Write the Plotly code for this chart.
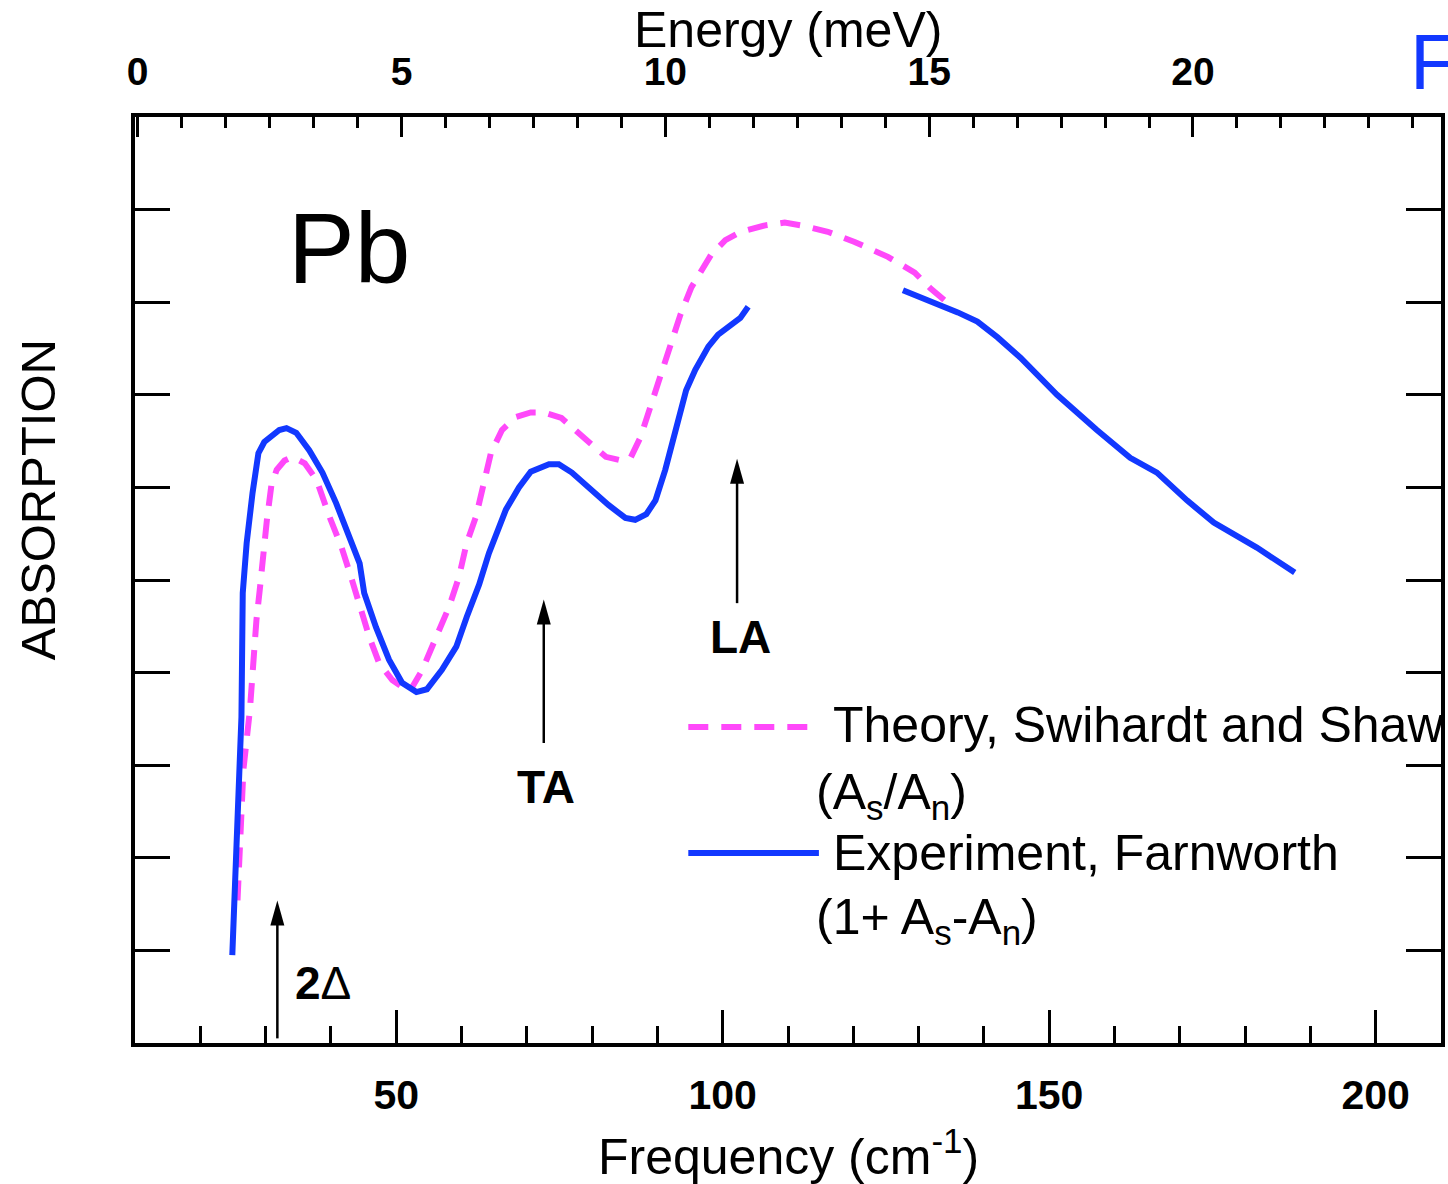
import plotly.graph_objects as go

# Far-infrared absorption of superconducting Pb
# Theory (Swihardt and Shaw): frequency in cm^-1, absorption in arbitrary units
theory_freq = [25.7, 26.2, 26.6, 27.6, 28.0, 28.6, 29.1, 29.5, 30.2, 30.9, 31.7, 32.9, 34.1,
               36.0, 37.8, 39.8, 41.6, 43.1, 44.4, 45.9, 47.4, 49.4, 52.0, 54.0, 56.1, 58.1,
               59.6, 60.8, 62.2, 63.4, 64.5, 66.2, 68.3, 70.6, 72.6, 75.3, 77.5, 79.9, 82.1,
               84.5, 85.9, 87.4, 88.9, 90.6, 92.1, 93.5, 95.2, 97.0, 98.2, 100.4, 102.8,
               106.5, 109.5, 112.0, 116.1, 120.2, 125.3, 129.4, 131.8, 134.0]
theory_abs = [1.54, 2.19, 2.95, 3.60, 4.08, 4.57, 4.89, 5.24, 5.65, 6.03, 6.19, 6.29, 6.33,
              6.26, 6.08, 5.68, 5.36, 5.03, 4.71, 4.38, 4.10, 3.92, 3.79, 4.03, 4.38, 4.71,
              5.03, 5.40, 5.68, 6.05, 6.37, 6.62, 6.76, 6.81, 6.81, 6.75, 6.62, 6.48, 6.33,
              6.29, 6.32, 6.54, 6.87, 7.24, 7.56, 7.86, 8.16, 8.38, 8.51, 8.67, 8.76,
              8.83, 8.86, 8.83, 8.76, 8.65, 8.49, 8.32, 8.15, 8.02]

# Experiment (Farnworth), low-frequency run
exp_low_freq = [24.9, 25.3, 25.6, 26.0, 26.3, 26.5, 27.1, 28.0, 28.9, 29.8, 30.9, 32.1, 33.2,
                34.7, 36.7, 38.7, 40.8, 42.8, 44.4, 45.1, 46.9, 48.9, 50.9, 53.1, 54.7, 57.0,
                59.2, 60.8, 62.7, 64.2, 65.7, 66.8, 68.8, 70.6, 73.4, 74.9, 76.9, 79.5, 82.5,
                85.1, 86.6, 88.3, 89.7, 91.2, 92.1, 93.2, 94.4, 95.8, 97.8, 99.3, 101.3,
                102.7, 103.9]
exp_low_abs = [0.95, 1.76, 2.25, 3.06, 3.52, 4.86, 5.40, 5.94, 6.37, 6.49, 6.56, 6.62, 6.64,
               6.59, 6.40, 6.16, 5.83, 5.46, 5.18, 4.86, 4.49, 4.14, 3.89, 3.79, 3.82, 4.03,
               4.28, 4.60, 4.95, 5.29, 5.57, 5.76, 6.00, 6.17, 6.25, 6.25, 6.16, 5.99, 5.81,
               5.67, 5.65, 5.71, 5.86, 6.19, 6.44, 6.73, 7.05, 7.27, 7.52, 7.65, 7.75,
               7.83, 7.95]

# Experiment (Farnworth), high-frequency run
exp_high_freq = [127.6, 129.8, 131.8, 136.0, 139.0, 142.1, 145.6, 151.2, 157.3, 162.4, 166.5,
                 171.1, 175.2, 181.8, 187.6]
exp_high_abs = [8.13, 8.07, 8.00, 7.89, 7.79, 7.62, 7.40, 7.00, 6.62, 6.32, 6.16,
                5.86, 5.62, 5.35, 5.08]

# Marked features: (label, frequency, arrow base, arrow tip, label position)
markers = [
    ("<b>2</b>Δ", 31.8, 0.05, 1.54, (38.8, 0.65)),
    ("<b>TA</b>", 72.6, 3.24, 4.79, (72.9, 2.76)),
    ("<b>LA</b>", 102.2, 4.75, 6.31, (102.8, 4.38)),
]

freq_ticks = [50, 100, 150, 200]
energy_ticks = [0, 5, 10, 15, 20]
abs_ticks = [1, 2, 3, 4, 5, 6, 7, 8, 9]

PINK = "#ff48fa"
BLUE = "#1238ff"
FONT = "Liberation Sans, Arial, sans-serif"
DASH = "20px,13px"

W, H = 1448, 1184
L, R, T, B = 135, 3, 117, 141
PW, PH = W - L - R, H - T - B


def px(xp):
    return (xp - L) / PW


def py(yp):
    return (H - B - yp) / PH


fig = go.Figure()
fig.add_trace(go.Scatter(x=theory_freq, y=theory_abs, mode="lines",
                         line=dict(color=PINK, width=6, dash=DASH), showlegend=False))
fig.add_trace(go.Scatter(x=exp_low_freq, y=exp_low_abs, mode="lines",
                         line=dict(color=BLUE, width=6), showlegend=False))
fig.add_trace(go.Scatter(x=exp_high_freq, y=exp_high_abs, mode="lines",
                         line=dict(color=BLUE, width=6), showlegend=False))
# empty trace so the energy axis on top is rendered
fig.add_trace(go.Scatter(x=energy_ticks, y=[None] * len(energy_ticks), xaxis="x2",
                         mode="markers", marker=dict(opacity=0), showlegend=False,
                         hoverinfo="skip"))

shapes = []
annotations = []

# arrows marking the gap edge and phonon peaks
for label, f, y0, y1, (lx, ly) in markers:
    shapes.append(dict(type="line", xref="x", yref="y", x0=f, x1=f, y0=y0, y1=y1 - 0.2,
                       line=dict(color="black", width=2.5)))
    shapes.append(dict(type="path", xref="x", yref="y", xsizemode="pixel", ysizemode="pixel",
                       xanchor=f, yanchor=y1, path="M0,0 L-7,-25 L7,-25 Z",
                       fillcolor="black", line=dict(color="black", width=0)))
    annotations.append(dict(x=lx, y=ly, xref="x", yref="y", text=label, showarrow=False,
                            xanchor="center", yanchor="middle",
                            font=dict(family=FONT, size=46, color="black")))

# legend
shapes.append(dict(type="line", xref="paper", yref="paper", x0=px(690), x1=px(821),
                   y0=py(727), y1=py(727), line=dict(color=PINK, width=6, dash=DASH)))
shapes.append(dict(type="line", xref="paper", yref="paper", x0=px(690), x1=px(821),
                   y0=py(853), y1=py(853), line=dict(color=BLUE, width=6)))
legend_text = [
    ("Theory, Swihardt and Shaw", 833, 725),
    ("(A<sub>s</sub>/A<sub>n</sub>)", 816, 795),
    ("Experiment, Farnworth", 833, 853),
    ("(1+ A<sub>s</sub>-A<sub>n</sub>)", 816, 920),
]
for txt, xl, yc in legend_text:
    annotations.append(dict(x=px(xl), y=py(yc), xref="paper", yref="paper", text=txt,
                            showarrow=False, xanchor="left", yanchor="middle",
                            font=dict(family=FONT, size=50, color="black")))

# titles and labels
annotations += [
    dict(x=px(790), y=py(30), text="Energy (meV)", font=dict(size=50)),
    dict(x=px(791), y=py(1153), text="Frequency (cm<sup>-1</sup>)", font=dict(size=50)),
    dict(x=px(38), y=py(500), text="ABSORPTION", textangle=-90, font=dict(size=49)),
    dict(x=px(350), y=py(248), text="Pb", font=dict(size=100)),
    dict(x=px(1412), y=py(62), text="F", xanchor="left", font=dict(size=78, color=BLUE)),
]
for a in annotations[-5:]:
    a.update(xref="paper", yref="paper", showarrow=False, yanchor="middle")
    a.setdefault("xanchor", "center")
    a["font"] = dict(family=FONT, color=a["font"].get("color", "black"), size=a["font"]["size"])

axis_common = dict(showline=True, linewidth=4, linecolor="black", showgrid=False,
                   zeroline=False, ticks="inside", tickwidth=3, tickcolor="black")

fig.update_layout(
    width=W, height=H,
    margin=dict(l=L, r=R, t=T, b=B, pad=0),
    paper_bgcolor="white", plot_bgcolor="white",
    showlegend=False,
    xaxis=dict(range=[10, 210], tickvals=freq_ticks, ticklen=33,
               tickfont=dict(family=FONT, size=41, color="black", weight="bold"),
               ticklabelstandoff=13,
               minor=dict(ticks="inside", tick0=0, dtick=10, ticklen=17, tickwidth=3,
                          tickcolor="black", showgrid=False),
               **axis_common),
    xaxis2=dict(range=[-0.05, 24.70], overlaying="x", side="top", tickvals=energy_ticks,
                ticklen=20, anchor="y",
                tickfont=dict(family=FONT, size=39, color="black", weight="bold"),
                ticklabelstandoff=12,
                minor=dict(ticks="inside", tick0=0, dtick=5 / 6, ticklen=11, tickwidth=3,
                           tickcolor="black", showgrid=False),
                **axis_common),
    yaxis=dict(range=[0, 10], tickvals=abs_ticks, ticklen=35, mirror="ticks",
               showticklabels=False, **axis_common),
    shapes=shapes,
    annotations=annotations,
)

fig.write_html("out.html")
